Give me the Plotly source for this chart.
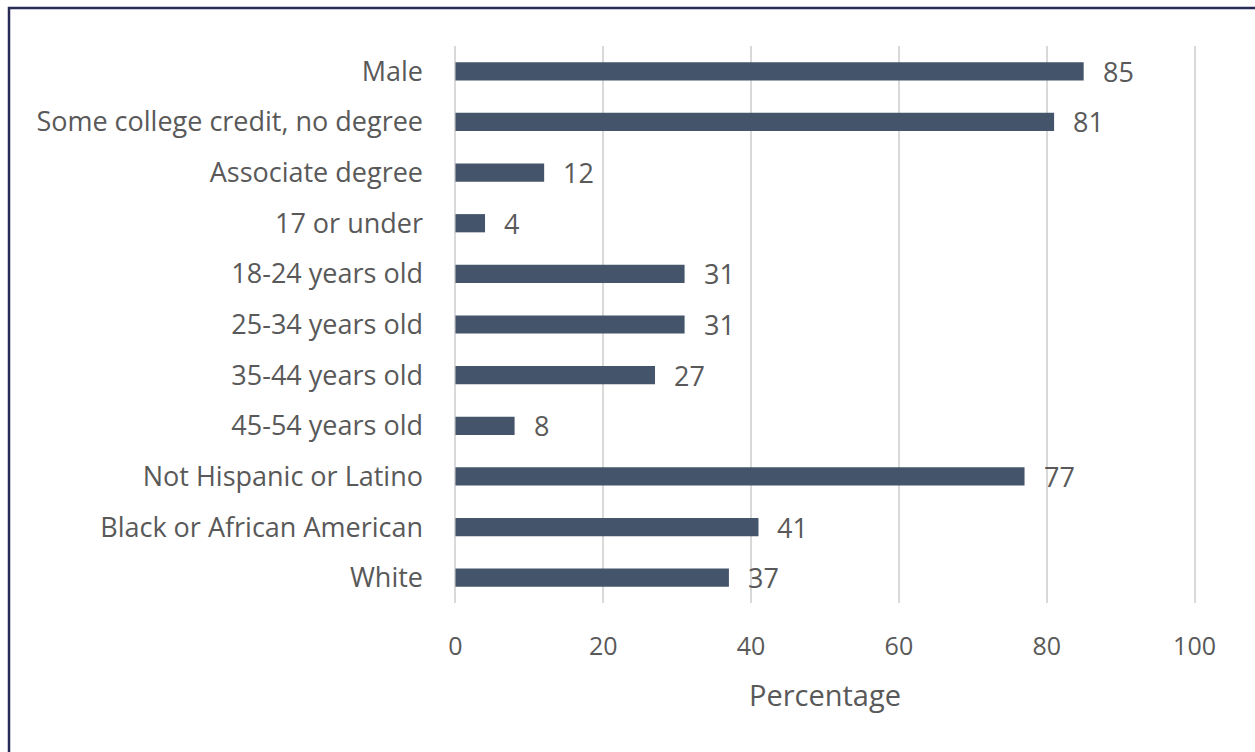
import plotly.graph_objects as go

categories = ["Male", "Some college credit, no degree", "Associate degree", "17 or under",
              "18-24 years old", "25-34 years old", "35-44 years old", "45-54 years old",
              "Not Hispanic or Latino", "Black or African American", "White"]
values = [85, 81, 12, 4, 31, 31, 27, 8, 77, 41, 37]
x_ticks = [0, 20, 40, 60, 80, 100]
x_title = "Percentage"

W, H = 1255, 752
L, R, T, B = 454, 59, 46, 149
PW, PH = W - L - R, H - T - B

def px_x(p):
    return (p - L) / PW

def px_y(p):
    return 1 - (p - T) / PH

BAR = "#44546A"
TXT = "#595959"
FONT = "Open Sans, Segoe UI, sans-serif"

fig = go.Figure(go.Bar(
    x=values, y=categories, orientation="h",
    marker=dict(color=BAR, line=dict(width=0)),
    width=0.36, hoverinfo="skip",
))

for c, v in zip(categories, values):
    fig.add_annotation(x=v, y=c, text=str(v), showarrow=False, xanchor="left",
                       xshift=17, yshift=0, font=dict(size=27, color=TXT, family=FONT))

fig.add_shape(type="rect", xref="paper", yref="paper",
              x0=px_x(9), x1=px_x(1265), y0=px_y(8), y1=px_y(765),
              line=dict(color="#272B55", width=2.5), fillcolor="rgba(0,0,0,0)", layer="below")

fig.update_layout(
    width=W, height=H,
    margin=dict(l=L, r=R, t=T, b=B, autoexpand=False),
    paper_bgcolor="white", plot_bgcolor="white",
    showlegend=False,
    font=dict(family=FONT, color=TXT, size=25),
    xaxis=dict(range=[-0.2, 100.2], tickvals=x_ticks, showgrid=True, gridcolor="#D9D9D9",
               gridwidth=2, zeroline=False, showline=False, ticks="",
               tickfont=dict(size=25, color=TXT), ticklabelstandoff=26,
               title=dict(text=x_title, font=dict(size=29, color=TXT), standoff=24)),
    yaxis=dict(categoryorder="array", categoryarray=categories, autorange="reversed",
               showgrid=False, zeroline=False, showline=False, ticks="",
               tickfont=dict(size=27, color=TXT), ticklabelstandoff=30),
)

fig.write_html("out.html")
